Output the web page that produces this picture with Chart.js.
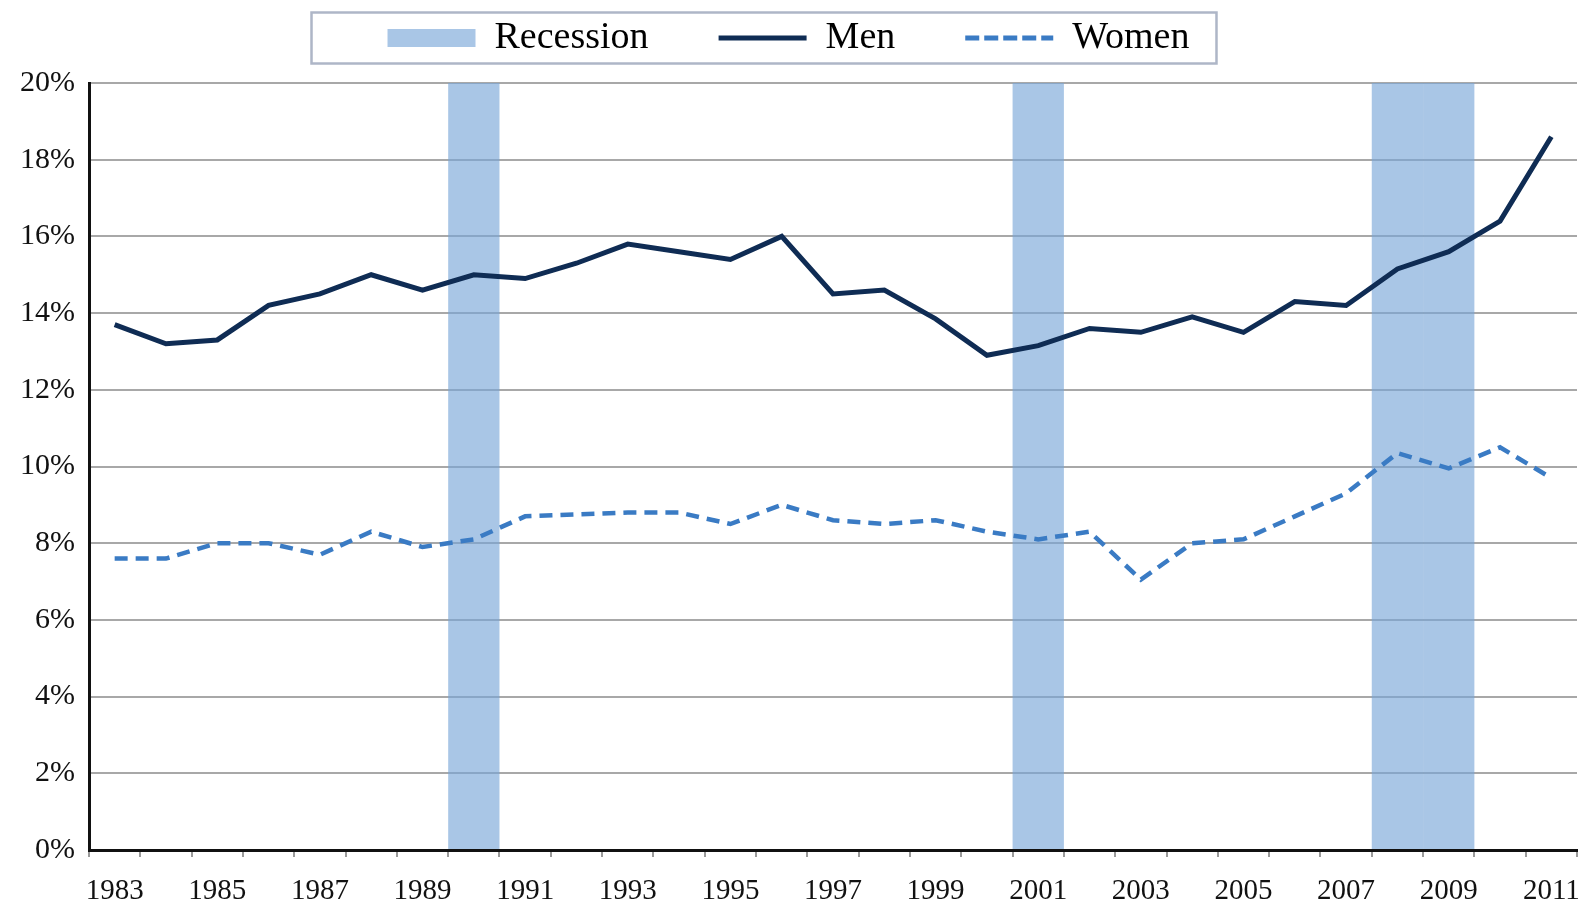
<!DOCTYPE html>
<html>
<head>
<meta charset="utf-8">
<script src="https://cdn.jsdelivr.net/npm/chart.js@4"></script>
<style>
  body { margin: 0; background: #fff; }
  canvas { display: block; }
</style>
</head>
<body>
<canvas id="myChart" width="1583" height="901"></canvas>
<script>
const years = ['1983','1984','1985','1986','1987','1988','1989','1990','1991','1992',
  '1993','1994','1995','1996','1997','1998','1999','2000','2001','2002',
  '2003','2004','2005','2006','2007','2008','2009','2010','2011']

const men = [13.7, 13.2, 13.3, 14.2, 14.5, 15.0, 14.6, 15.0, 14.9, 15.3,
  15.8, 15.6, 15.4, 16.0, 14.5, 14.6, 13.85, 12.9, 13.15, 13.6,
  13.5, 13.9, 13.5, 14.3, 14.2, 15.15, 15.6, 16.4, 18.6]

const women = [7.6, 7.6, 8.0, 8.0, 7.7, 8.3, 7.9, 8.1, 8.7, 8.75,
  8.8, 8.8, 8.5, 9.0, 8.6, 8.5, 8.6, 8.3, 8.1, 8.3,
  7.05, 8.0, 8.1, 8.7, 9.3, 10.35, 9.95, 10.5, 9.7]

// recession years are shaded over the full height of the axis
const recession = [null, null, null, null, null, null, null, 20, null, null,
  null, null, null, null, null, null, null, null, 20, null,
  null, null, null, null, null, 20, 20, null, null]

const yTicks = [0, 2, 4, 6, 8, 10, 12, 14, 16, 18, 20]

const recessionColor = 'rgba(118,164,215,0.63)'
const menColor = '#0f2c54'
const womenColor = '#3a7bc4'

const legendBorder = {
  id: 'legendBorder',
  afterDraw(chart) {
    const boxes = chart.legend.legendHitBoxes
    if (!boxes || !boxes.length) return
    const first = boxes[0]
    const last = boxes[boxes.length - 1]
    const ctx = chart.ctx
    ctx.save()
    ctx.strokeStyle = '#aeb6c7'
    ctx.lineWidth = 2.5
    ctx.strokeRect(first.left - 76, first.top - 6.5,
      last.left + last.width + 27 - (first.left - 76), first.height + 13)
    ctx.restore()
  }
}

new Chart('myChart', {
  type: 'bar',
  data: {
    labels: years,
    datasets: [
      {
        type: 'line',
        label: 'Men',
        data: men,
        borderColor: menColor,
        borderWidth: 5,
        pointRadius: 0,
        tension: 0,
        order: 1
      },
      {
        type: 'line',
        label: 'Women',
        data: women,
        borderColor: womenColor,
        borderWidth: 4.5,
        borderDash: [13, 8],
        pointRadius: 0,
        tension: 0,
        order: 2
      },
      {
        label: 'Recession',
        data: recession,
        backgroundColor: recessionColor,
        barPercentage: 1,
        categoryPercentage: 1,
        inflateAmount: 0,
        order: 3
      }
    ]
  },
  options: {
    responsive: false,
    animation: false,
    layout: { padding: { top: -51, right: 6, left: 0, bottom: 0 } },
    plugins: {
      tooltip: { enabled: false },
      // empty spacer between the legend and the plot
      title: { display: true, text: '', weight: 500, padding: 0, font: { size: 16, lineHeight: 1 } },
      legend: {
        position: 'top',
        labels: {
          usePointStyle: true,
          pointStyleWidth: 88,
          boxHeight: 18,
          padding: 70,
          color: '#111',
          font: { family: 'Liberation Serif', size: 38 },
          generateLabels: () => [
            { text: 'Recession', pointStyle: 'rect', fillStyle: recessionColor, strokeStyle: recessionColor, lineWidth: 0 },
            { text: 'Men', pointStyle: 'line', strokeStyle: menColor, fillStyle: menColor, lineWidth: 5 },
            { text: 'Women', pointStyle: 'line', strokeStyle: womenColor, fillStyle: womenColor, lineWidth: 5, lineDash: [14, 5] }
          ]
        }
      }
    },
    scales: {
      x: {
        offset: true,
        grid: { offset: true, drawOnChartArea: false, tickLength: 7, color: '#9a9a9a', lineWidth: 2 },
        border: { color: '#111', width: 3 },
        ticks: {
          autoSkip: false,
          maxRotation: 0,
          padding: 17,
          color: '#111',
          font: { family: 'Liberation Serif', size: 29 },
          callback: (v, i) => i % 2 === 0 ? years[i] : ''
        },
        afterFit: (scale) => {
          scale.height = 51
          scale.paddingLeft = 0
          scale.paddingRight = 0
        }
      },
      y: {
        min: 0,
        max: 20,
        afterBuildTicks: (scale) => { scale.ticks = yTicks.map(v => ({ value: v })) },
        grid: { color: '#a8a8a8', lineWidth: 2, drawTicks: false },
        border: { color: '#111', width: 3 },
        ticks: {
          padding: 14,
          color: '#111',
          font: { family: 'Liberation Serif', size: 30 },
          callback: (v) => v + '%'
        },
        afterFit: (scale) => { scale.width = 89 }
      }
    }
  },
  plugins: [legendBorder]
})
</script>
</body>
</html>
